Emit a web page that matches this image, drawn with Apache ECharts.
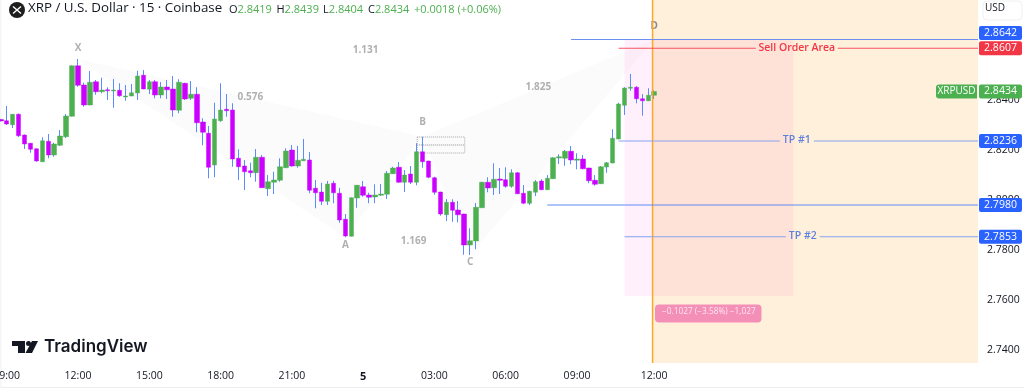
<!DOCTYPE html>
<html>
<head>
<meta charset="utf-8">
<title>XRP / U.S. Dollar</title>
<script src="https://cdn.jsdelivr.net/npm/echarts@6/dist/echarts.min.js"></script>
<style>
html,body{margin:0;padding:0;background:#fff}
#chart{width:1024px;height:388px}
</style>
</head>
<body>
<div id="chart"></div>
<script>
var opens = [
2.8322,2.8317,2.8301,2.8343,2.8260,2.8227,2.8205,2.8153,2.8235,2.8180,
2.8219,2.8253,2.8335,2.8537,2.8460,2.8380,2.8473,2.8433,2.8441,2.8436,
2.8439,2.8412,2.8416,2.8428,2.8499,2.8443,2.8473,2.8420,2.8452,2.8444,
2.8359,2.8467,2.8407,2.8423,2.8312,2.8267,2.8140,2.8317,2.8363,2.8360,
2.8167,2.8136,2.8117,2.8109,2.8171,2.8045,2.8071,2.8079,2.8129,2.8200,
2.8136,2.8157,2.8160,2.8047,2.8032,2.7995,2.8067,2.8027,2.7923,2.7855,
2.8008,2.8053,2.8020,2.8012,2.8019,2.8023,2.8105,2.8131,2.8071,2.8104,
2.8071,2.8193,2.8156,2.8089,2.8032,2.7941,2.7991,2.7960,2.7944,2.7820,
2.7836,2.7969,2.8071,2.8049,2.8084,2.8081,2.8055,2.8109,2.8027,2.7987,
2.8031,2.8076,2.8041,2.8085,2.8168,2.8167,2.8195,2.8159,2.8164,2.8128,
2.8079,2.8065,2.8132,2.8148,2.8244,2.8379,2.8447,2.8451,2.8405,2.8397,
2.8419];
var closes = [
2.8316,2.8304,2.8343,2.8257,2.8224,2.8203,2.8156,2.8237,2.8180,2.8224,
2.8256,2.8336,2.8537,2.8459,2.8380,2.8471,2.8433,2.8440,2.8437,2.8440,
2.8417,2.8416,2.8429,2.8496,2.8444,2.8473,2.8420,2.8452,2.8441,2.8360,
2.8471,2.8404,2.8423,2.8309,2.8271,2.8131,2.8324,2.8360,2.8357,2.8164,
2.8133,2.8113,2.8109,2.8171,2.8049,2.8073,2.8080,2.8133,2.8196,2.8136,
2.8159,2.8163,2.8039,2.8029,2.7995,2.8064,2.8029,2.7920,2.7856,2.8009,
2.8059,2.8019,2.8011,2.8020,2.8024,2.8107,2.8128,2.8071,2.8100,2.8071,
2.8193,2.8153,2.8091,2.8031,2.7944,2.7991,2.7959,2.7941,2.7820,2.7837,
2.7971,2.8071,2.8048,2.8083,2.8079,2.8055,2.8109,2.8025,2.7987,2.8035,
2.8073,2.8041,2.8087,2.8169,2.8173,2.8195,2.8160,2.8164,2.8125,2.8077,
2.8063,2.8133,2.8149,2.8247,2.8384,2.8448,2.8451,2.8405,2.8397,2.8419,
2.8434];
var highs = [
2.8324,2.8376,2.8344,2.8346,2.8262,2.8228,2.8206,2.8251,2.8264,2.8229,
2.8280,2.8344,2.8538,2.8564,2.8469,2.8516,2.8480,2.8489,2.8451,2.8484,
2.8467,2.8460,2.8464,2.8517,2.8520,2.8480,2.8480,2.8472,2.8480,2.8496,
2.8483,2.8469,2.8476,2.8451,2.8327,2.8296,2.8389,2.8467,2.8424,2.8387,
2.8203,2.8160,2.8149,2.8204,2.8180,2.8100,2.8113,2.8167,2.8207,2.8220,
2.8216,2.8244,2.8192,2.8080,2.8069,2.8076,2.8077,2.8049,2.7944,2.8010,
2.8060,2.8076,2.8029,2.8063,2.8064,2.8116,2.8133,2.8152,2.8120,2.8136,
2.8227,2.8253,2.8157,2.8093,2.8033,2.8004,2.8003,2.7996,2.7945,2.7887,
2.7988,2.8073,2.8091,2.8147,2.8128,2.8131,2.8123,2.8112,2.8060,2.8037,
2.8080,2.8083,2.8100,2.8171,2.8183,2.8200,2.8216,2.8187,2.8180,2.8129,
2.8100,2.8136,2.8152,2.8283,2.8389,2.8451,2.8504,2.8456,2.8424,2.8447,
2.8439];
var lows = [
2.8314,2.8300,2.8288,2.8252,2.8204,2.8189,2.8153,2.8152,2.8167,2.8173,
2.8216,2.8248,2.8334,2.8453,2.8373,2.8379,2.8421,2.8427,2.8400,2.8369,
2.8413,2.8397,2.8415,2.8400,2.8443,2.8424,2.8407,2.8407,2.8404,2.8333,
2.8347,2.8400,2.8400,2.8271,2.8219,2.8087,2.8091,2.8313,2.8333,2.8133,
2.8080,2.8040,2.8091,2.8073,2.8048,2.8016,2.8024,2.8073,2.8128,2.8133,
2.8129,2.8156,2.8027,2.7967,2.7980,2.7980,2.7987,2.7909,2.7851,2.7854,
2.7969,2.8013,2.7987,2.7987,2.8016,2.8004,2.8104,2.8069,2.8032,2.8064,
2.8059,2.8129,2.8087,2.8021,2.7937,2.7916,2.7913,2.7911,2.7781,2.7780,
2.7803,2.7968,2.8031,2.8020,2.8024,2.8049,2.8049,2.8024,2.7984,2.7980,
2.8016,2.8040,2.8040,2.8084,2.8144,2.8137,2.8143,2.8123,2.8123,2.8067,
2.8057,2.8064,2.8109,2.8147,2.8243,2.8340,2.8437,2.8387,2.8337,2.8396,
2.8404];

// x axis: 165 slots, only these carry a label
var tickSlots = [1,13,25,37,49,61,73,85,97,110];
var tickLabels = ['09:00','12:00','15:00','18:00','21:00','5','03:00','06:00','09:00','12:00'];
var priceTicks = [2.74,2.76,2.78,2.80,2.82,2.84,2.86];

// horizontal levels
var levelPrices = [2.8642,2.8607,2.8236,2.7980,2.7853];
var levelStarts = [96,104,104,92,105];
var levelNames = ['','Sell Order Area','TP #1','','TP #2'];
var levelNameSlots = [0,134,134,0,135];
var levelColors = ['#6f8ff0','#f7525f','#86a3ef','#5f8bf5','#86a3ef'];
var levelTextColors = ['','#f23645','#5f82dc','','#5f82dc'];
var levelGaps = [0,41,17,0,17];

// price tags on the axis
var tagPrices = [2.8642,2.8607,2.8434,2.8236,2.7980,2.7853];
var tagColors = ['#2962ff','#f23645','#4caf50','#2962ff','#2962ff','#2962ff'];
var tagShift = [-6.5,0,0,0,0,0];

// XABCD pattern, slot + price
var patternSlots = [13,58,71,79,110];
var patternPrices = [2.8564,2.7851,2.8253,2.7780,2.8642];
var noteText = ['X','A','B','C','D','0.576','1.131','1.825','1.169'];
var noteSlots = [13,58,71,79,110,42,61.4,90.5,69.5];
var notePrices = [2.8608,2.7820,2.8312,2.7752,2.8696,2.8412,2.8600,2.8452,2.7836];

var gridLeft = -2.2, gridWidth = 980.2, gridHeight = 363;
var priceMin = 2.7348, priceMax = 2.88, slotCount = 165;
var uiFont = '"Open Sans", sans-serif';

var categories = [];
for (var s = 0; s < slotCount; s++) categories.push(String(s));

var wickData = [], bodyData = [];
for (var i = 0; i < opens.length; i++) {
  wickData.push([opens[i], closes[i], lows[i], highs[i]]);
  bodyData.push([opens[i], closes[i], Math.min(opens[i], closes[i]), Math.max(opens[i], closes[i])]);
}

// fractional slots: category axes round, so step from the nearest whole slot
function slotX(api, slot) {
  var whole = Math.floor(slot);
  return api.coord([whole, priceMax])[0] + (slot - whole) * api.size([1, 0])[0];
}
function priceY(api, price) {
  return api.coord([0, price])[1];
}

function renderZones(params, api) {
  var left = slotX(api, 105), now = slotX(api, 109.75), mid = slotX(api, 133.4), right = slotX(api, 164.5);
  var top = priceY(api, priceMax), bottom = priceY(api, priceMin);
  var zoneTop = priceY(api, 2.8642), zoneBottom = priceY(api, 2.7616);
  return {type: 'group', children: [
    {type: 'rect', shape: {x: now, y: top, width: right - now, height: bottom - top}, style: {fill: '#fff0dc'}},
    {type: 'rect', shape: {x: left, y: zoneTop, width: now - left, height: zoneBottom - zoneTop}, style: {fill: '#fff0fb'}},
    {type: 'rect', shape: {x: now, y: zoneTop, width: mid - now, height: zoneBottom - zoneTop}, style: {fill: '#ffe2d7'}}
  ]};
}

function renderPattern(params, api) {
  var pts = [];
  for (var k = 0; k < patternSlots.length; k++) pts.push(api.coord([patternSlots[k], patternPrices[k]]));
  return {type: 'group', children: [
    {type: 'polygon', shape: {points: [pts[0], pts[1], pts[2]]}, style: {fill: 'rgba(120,120,120,0.03)'}},
    {type: 'polygon', shape: {points: [pts[2], pts[3], pts[4]]}, style: {fill: 'rgba(120,120,120,0.03)'}}
  ]};
}

function renderBox(params, api) {
  var x0 = slotX(api, 70.1), x1 = slotX(api, 78.1);
  var y0 = priceY(api, 2.8252), y1 = priceY(api, 2.8188), ym = priceY(api, 2.8220);
  return {type: 'group', children: [
    {type: 'rect', shape: {x: x0, y: y0, width: x1 - x0, height: y1 - y0},
      style: {fill: 'none', stroke: '#a8a8a8', lineWidth: 1, lineDash: [1, 1]}},
    {type: 'line', shape: {x1: x0, y1: ym, x2: x1, y2: ym},
      style: {stroke: '#c4c4c4', lineWidth: 2, lineDash: [1, 1]}}
  ]};
}

function renderNote(params, api) {
  var k = params.dataIndex;
  return {type: 'text', x: slotX(api, noteSlots[k]), y: priceY(api, notePrices[k]),
    style: {text: noteText[k], align: 'center', verticalAlign: 'middle',
      font: 'bold 10px ' + uiFont, fill: k === 4 ? '#8a8a8a' : '#b0b0b0'}};
}

function renderLevel(params, api) {
  var k = params.dataIndex;
  var y = priceY(api, levelPrices[k]);
  var x0 = slotX(api, levelStarts[k]), x1 = slotX(api, 164.5);
  var kids = [];
  var lineStyle = {stroke: levelColors[k], lineWidth: 1};
  if (levelNames[k]) {
    var c = slotX(api, levelNameSlots[k]);
    kids.push({type: 'line', shape: {x1: x0, y1: y, x2: c - levelGaps[k], y2: y}, style: lineStyle});
    kids.push({type: 'line', shape: {x1: c + levelGaps[k], y1: y, x2: x1, y2: y}, style: lineStyle});
    kids.push({type: 'text', x: c, y: y - 0.5, style: {text: levelNames[k], align: 'center', verticalAlign: 'middle',
      font: '600 10.5px ' + uiFont, fill: levelTextColors[k]}});
  } else {
    kids.push({type: 'line', shape: {x1: x0, y1: y, x2: x1, y2: y}, style: lineStyle});
  }
  return {type: 'group', children: kids};
}

function renderNow(params, api) {
  var x = slotX(api, 109.72);
  return {type: 'line', shape: {x1: x, y1: priceY(api, priceMax), x2: x, y2: priceY(api, priceMin)},
    style: {stroke: '#ffa726', lineWidth: 1.5}};
}

function renderTag(params, api) {
  var k = params.dataIndex;
  var y = priceY(api, tagPrices[k]) + tagShift[k];
  var kids = [
    {type: 'rect', shape: {x: 979, y: y - 7, width: 43, height: 14, r: 2}, style: {fill: tagColors[k]}},
    {type: 'text', x: 1000.5, y: y, style: {text: tagPrices[k].toFixed(4), align: 'center', verticalAlign: 'middle',
      font: '500 10.5px ' + uiFont, fill: '#fff'}}
  ];
  if (tagPrices[k] === closes[closes.length - 1]) {
    kids.push({type: 'rect', shape: {x: 936, y: y - 7, width: 41, height: 14, r: [3, 0, 0, 3]}, style: {fill: tagColors[k]}});
    kids.push({type: 'text', x: 956.5, y: y, style: {text: 'XRPUSD', align: 'center', verticalAlign: 'middle',
      font: '500 10px ' + uiFont, fill: '#fff'}});
  }
  return {type: 'group', children: kids};
}

function customSeries(render, count, z) {
  var rows = [];
  for (var k = 0; k < count; k++) rows.push([k]);
  return {type: 'custom', renderItem: render, data: rows, z: z, silent: true, clip: false, animation: false};
}

function ohlcItem(x, letter, value) {
  return {type: 'text', left: x, top: 4, style: {
    text: '{d|' + letter + '}{g|' + value + '}',
    rich: {
      d: {fill: '#131722', font: '11px ' + uiFont},
      g: {fill: '#4caf50', font: '11px ' + uiFont}
    }}};
}

var headerGraphic = [
  {type: 'rect', shape: {x: 0, y: 387, width: 1024, height: 1}, style: {fill: '#eeeeee'}},
  {type: 'rect', shape: {x: 0, y: 0, width: 1.5, height: 388}, style: {fill: '#f6f6f6'}},
  {type: 'circle', shape: {cx: 17, cy: 10, r: 8}, style: {fill: '#1e1e1e'}},
  {type: 'line', shape: {x1: 13, y1: 6.5, x2: 21, y2: 13.5}, style: {stroke: '#fff', lineWidth: 1.4}},
  {type: 'line', shape: {x1: 21, y1: 6.5, x2: 13, y2: 13.5}, style: {stroke: '#fff', lineWidth: 1.4}},
  {type: 'text', left: 28, top: 2, style: {text: 'XRP / U.S. Dollar \u00b7 15 \u00b7 Coinbase', font: '500 13.35px ' + uiFont, fill: '#131722'}},
  ohlcItem(229, 'O', '2.8419'),
  ohlcItem(276.5, 'H', '2.8439'),
  ohlcItem(323, 'L', '2.8404'),
  ohlcItem(368, 'C', '2.8434'),
  {type: 'text', left: 414, top: 4, style: {text: '+0.0018 (+0.06%)', font: '11px ' + uiFont, fill: '#4caf50'}},
  {type: 'rect', shape: {x: 983, y: 1, width: 39, height: 19, r: 4}, style: {fill: '#fff', stroke: '#f0f0f0'}},
  {type: 'text', left: 985, top: 3, style: {text: 'USD', font: '10px ' + uiFont, fill: '#131722'}},
  // measure badge
  {type: 'rect', z: 20, shape: {x: 655, y: 304.5, width: 106.5, height: 18, r: 4}, style: {fill: '#f48fb8'}},
  {type: 'text', z: 21, left: 662, top: 308, style: {text: '\u22120.1027 (\u22123.58%) \u22121,027', font: '8.3px ' + uiFont, fill: '#ffe6ef'}},
  // TradingView mark
  {type: 'polygon', z: 20, shape: {points: [[12,341],[25,341],[25,353],[18,353],[18,346],[12,346]]}, style: {fill: '#131722'}},
  {type: 'circle', z: 20, shape: {cx: 28.5, cy: 343.5, r: 2.5}, style: {fill: '#131722'}},
  {type: 'polygon', z: 20, shape: {points: [[32,341],[38,341],[32,353],[25.5,353]]}, style: {fill: '#131722'}},
  {type: 'text', z: 20, left: 44, top: 338, style: {text: 'TradingView', font: '600 17px Inter, sans-serif', fill: '#131722'}}
];

var chart = echarts.init(document.getElementById('chart'));
chart.setOption({
  animation: false,
  backgroundColor: '#fff',
  tooltip: {show: false},
  grid: {left: gridLeft, top: 0, width: gridWidth, height: gridHeight, containLabel: false, outerBoundsMode: 'none'},
  xAxis: {
    type: 'category',
    data: categories,
    boundaryGap: true,
    axisLine: {show: false},
    axisTick: {show: false},
    splitLine: {show: false},
    axisLabel: {
      margin: 8,
      fontFamily: '"Open Sans", sans-serif',
      fontSize: 10.5,
      color: '#131722',
      hideOverlap: false,
      interval: function (index) { return tickSlots.indexOf(index) >= 0; },
      formatter: function (value, index) {
        var t = tickLabels[tickSlots.indexOf(index)];
        return t === '5' ? '{b|5}' : t;
      },
      rich: {b: {fontWeight: 'bold', fontSize: 11, color: '#131722', fontFamily: '"Open Sans", sans-serif'}}
    }
  },
  yAxis: {
    type: 'value',
    position: 'right',
    min: priceMin,
    max: priceMax,
    axisLine: {show: false},
    axisTick: {show: false},
    splitLine: {show: false},
    axisLabel: {
      margin: 9,
      customValues: priceTicks,
      fontFamily: '"Open Sans", sans-serif',
      fontSize: 10.5,
      color: '#131722',
      formatter: function (v) { return v.toFixed(4); }
    }
  },
  graphic: headerGraphic,
  series: [
    customSeries(renderZones, 1, 1),
    customSeries(renderPattern, 1, 1),
    customSeries(renderBox, 1, 1),
    customSeries(renderNote, noteText.length, 5),
    {type: 'candlestick', data: wickData, barWidth: 1, z: 2, silent: true,
      itemStyle: {color: '#5b8cff', color0: '#5b8cff', borderColor: '#5b8cff', borderColor0: '#5b8cff', borderWidth: 1}},
    {type: 'candlestick', data: bodyData, barWidth: 5, z: 3, silent: true,
      itemStyle: {color: '#4caf50', color0: '#cc00ff', borderColor: 'rgba(76,175,80,0.45)', borderColor0: 'rgba(204,0,255,0.45)', borderWidth: 1}},
    customSeries(renderNow, 1, 6),
    customSeries(renderLevel, levelPrices.length, 7),
    customSeries(renderTag, tagPrices.length, 8)
  ]
});
</script>
</body>
</html>
